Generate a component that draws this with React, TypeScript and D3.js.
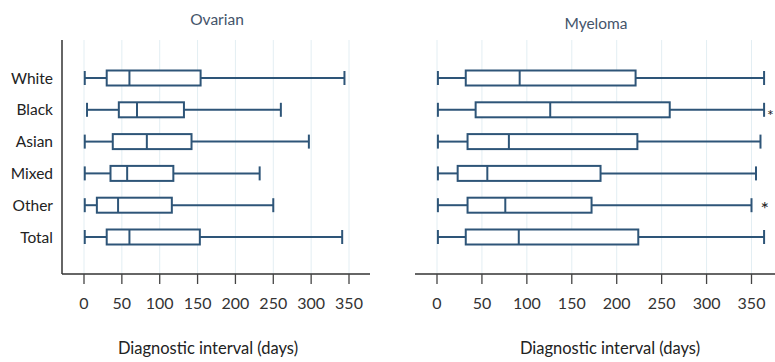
import React from "react";
import * as d3 from "d3";

const categories = ["White", "Black", "Asian", "Mixed", "Other", "Total"];
const ticks = [0, 50, 100, 150, 200, 250, 300, 350];

const ovarianMin = [1, 4, 1, 1, 1, 1];
const ovarianQ1 = [30, 46, 38, 35, 17, 30];
const ovarianMed = [60, 70, 83, 57, 45, 60];
const ovarianQ3 = [154, 132, 142, 118, 116, 153];
const ovarianMax = [344, 260, 297, 232, 250, 341];
const ovarianStar = [false, false, false, false, false, false];

const myelomaMin = [1, 1, 1, 1, 1, 1];
const myelomaQ1 = [32, 43, 34, 23, 34, 32];
const myelomaMed = [92, 126, 80, 56, 76, 91];
const myelomaQ3 = [221, 259, 223, 182, 172, 224];
const myelomaMax = [364, 364, 360, 355, 350, 364];
const myelomaStar = [false, true, false, false, true, false];

const BOX = "#2E5578";
const FONT = "Lato, 'Open Sans', sans-serif";

type PanelProps = {
  title: string;
  titleX: number;
  titleY: number;
  labelX: number;
  r0: number;
  r1: number;
  axisX0: number;
  axisX1: number;
  yAxis: boolean;
  mins: number[];
  q1s: number[];
  meds: number[];
  q3s: number[];
  maxs: number[];
  stars: boolean[];
  starDx: number[];
  showLabels: boolean;
};

function Panel(p: PanelProps) {
  const x = d3.scaleLinear().domain([0, 350]).range([p.r0, p.r1]);
  const y = d3.scalePoint<string>().domain(categories).range([78, 237]);
  const top = 40;
  const base = 274;
  const bh = 15;
  const ch = 7;
  return (
    <g>
      <text x={p.titleX} y={p.titleY} textAnchor="middle" fontSize={15.5} fill="#44546A" fontFamily={FONT}>
        {p.title}
      </text>
      {ticks.map((t) => (
        <line key={"g" + t} x1={x(t)} x2={x(t)} y1={top} y2={base} stroke="#E3EEF3" strokeWidth={1} />
      ))}
      {p.yAxis && <line x1={p.axisX0} x2={p.axisX0} y1={top} y2={base} stroke="#333" strokeWidth={1.5} />}
      <line x1={p.axisX0} x2={p.axisX1} y1={base} y2={base} stroke="#333" strokeWidth={1.5} />
      {ticks.map((t) => (
        <g key={"t" + t}>
          <line x1={x(t)} x2={x(t)} y1={base} y2={base + 10} stroke="#444" strokeWidth={1.3} />
          <text x={x(t)} y={309} textAnchor="middle" fontSize={16} fill="#333" fontFamily={FONT}>
            {t}
          </text>
        </g>
      ))}
      <text x={p.labelX} y={354} textAnchor="middle" fontSize={16.5} fill="#222" fontFamily={FONT}>
        Diagnostic interval (days)
      </text>
      {categories.map((c, i) => {
        const cy = y(c) as number;
        return (
          <g key={c}>
            {p.showLabels && (
              <text x={53} y={cy + 5.5} textAnchor="end" fontSize={15.5} fill="#222" fontFamily={FONT}>
                {c}
              </text>
            )}
            <line x1={x(p.mins[i])} x2={x(p.q1s[i])} y1={cy} y2={cy} stroke={BOX} strokeWidth={2} />
            <line x1={x(p.q3s[i])} x2={x(p.maxs[i])} y1={cy} y2={cy} stroke={BOX} strokeWidth={2} />
            <line x1={x(p.mins[i])} x2={x(p.mins[i])} y1={cy - ch} y2={cy + ch} stroke={BOX} strokeWidth={2} />
            <line x1={x(p.maxs[i])} x2={x(p.maxs[i])} y1={cy - ch} y2={cy + ch} stroke={BOX} strokeWidth={2} />
            <rect x={x(p.q1s[i])} y={cy - bh / 2} width={x(p.q3s[i]) - x(p.q1s[i])} height={bh} fill="white" stroke={BOX} strokeWidth={2} />
            <line x1={x(p.meds[i])} x2={x(p.meds[i])} y1={cy - bh / 2} y2={cy + bh / 2} stroke={BOX} strokeWidth={2} />
            {p.stars[i] && (
              <text x={x(p.maxs[i]) + p.starDx[i]} y={cy + 11} fontSize={p.starDx[i] > 5 ? 20 : 16} fill="#222" fontFamily={FONT}>
                *
              </text>
            )}
          </g>
        );
      })}
    </g>
  );
}

export default function App() {
  return (
    <svg width={775} height={362} style={{ position: "absolute", left: 0, top: 0, background: "white" }}>
      <Panel
        title="Ovarian"
        titleX={217}
        titleY={25}
        labelX={208}
        r0={84}
        r1={349}
        axisX0={62}
        axisX1={370}
        yAxis={true}
        mins={ovarianMin}
        q1s={ovarianQ1}
        meds={ovarianMed}
        q3s={ovarianQ3}
        maxs={ovarianMax}
        stars={ovarianStar}
        starDx={[0, 0, 0, 0, 0, 0]}
        showLabels={true}
      />
      <Panel
        title="Myeloma"
        titleX={596}
        titleY={29}
        labelX={610}
        r0={437}
        r1={751.5}
        axisX0={415}
        axisX1={775}
        yAxis={false}
        mins={myelomaMin}
        q1s={myelomaQ1}
        meds={myelomaMed}
        q3s={myelomaQ3}
        maxs={myelomaMax}
        stars={myelomaStar}
        starDx={[0, 3, 0, 0, 9, 0]}
        showLabels={false}
      />
    </svg>
  );
}
